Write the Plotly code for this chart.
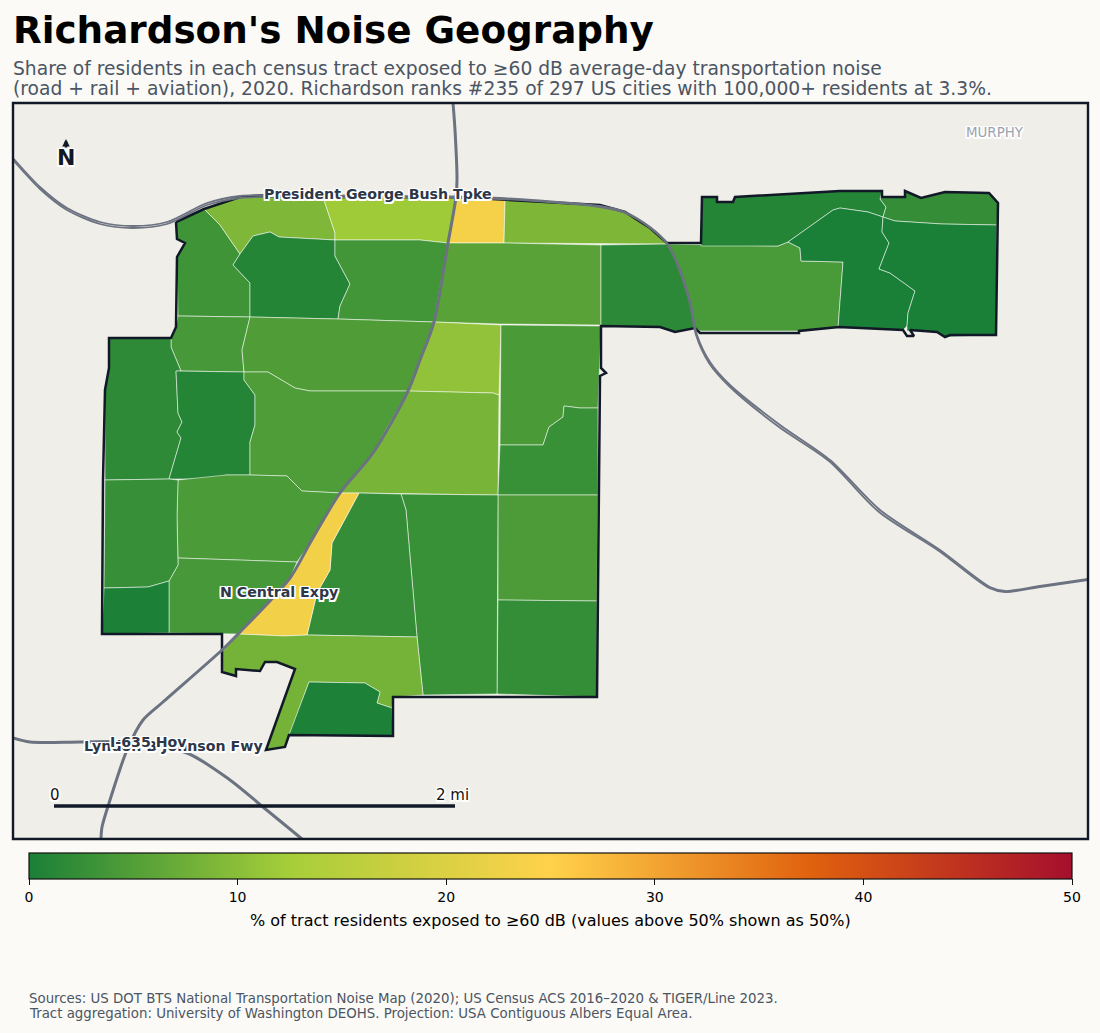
"""Richardson noise exposure map: census tracts, highways and a horizontal colorbar."""

import plotly.graph_objects as go
from plotly.colors import sample_colorscale

W, H = 1100, 1033

# map units (y grows downward)
MAP_X_RANGE = [13, 1088]
MAP_Y_RANGE = [839, 103]

color_stops = [
    [0.00, '#1a7f37'],
    [0.25, '#a6ce39'],
    [0.50, '#ffd24a'],
    [0.75, '#e0610e'],
    [1.00, '#a50f2d'],
]

tract_values = [
    3.3, 9.0, 1.0, 12.0, 23.4, 8.9, 3.6, 5.6, 1.6, 4.2, 0.9, 2.4, 0.1, 0.1,
    4.0, 4.8, 1.8, 1.0, 4.7, 10.6, 8.4, 4.3, 2.8, 4.5, 2.3, 2.8, 2.4, 23.2,
    4.4, 4.0, 2.6, 0.2, 8.0, 0.3,
]

tract_shapes = [
    [(176, 222), (204, 209), (220, 225), (240, 254), (233, 265), (250, 283), (250, 317), (178, 316), (177, 257), (185, 243), (177, 239)],
    [(204, 209), (240, 197), (265, 195), (323, 197), (335, 233), (335, 240), (279, 237), (270, 232), (253, 236), (240, 254), (220, 225)],
    [(240, 254), (253, 236), (270, 232), (279, 237), (335, 240), (335, 256), (350, 284), (340, 306), (338, 319), (250, 317), (250, 283), (233, 265)],
    [(323, 197), (456, 197), (448, 243), (420, 240), (335, 240), (335, 233)],
    [(456, 197), (505, 200), (504, 243), (448, 243)],
    [(505, 200), (600, 205), (625, 212), (650, 228), (667, 244), (504, 243)],
    [(335, 240), (420, 240), (448, 243), (434, 322), (338, 319), (340, 306), (350, 284), (335, 256)],
    [(448, 243), (504, 243), (601, 245), (601, 325), (500, 324), (434, 322)],
    [(601, 245), (667, 244), (676, 260), (690, 300), (695, 328), (675, 332), (660, 327), (601, 326)],
    [(667, 244), (778, 246), (788, 242), (800, 248), (801, 261), (843, 262), (838, 328), (798, 331), (700, 331), (695, 328), (690, 300), (676, 260)],
    [(702, 197), (717, 197), (717, 202), (733, 202), (735, 197), (840, 191), (882, 191), (880, 199), (886, 207), (883, 217), (868, 212), (840, 208), (833, 210), (788, 242), (778, 246), (701, 246)],
    [(882, 197), (905, 197), (905, 191), (921, 198), (945, 192), (989, 193), (998, 203), (997, 225), (942, 224), (895, 221), (883, 217), (886, 207), (880, 199)],
    [(788, 242), (833, 210), (840, 208), (868, 212), (883, 217), (882, 232), (889, 243), (879, 269), (890, 273), (915, 291), (908, 313), (907, 326), (903, 330), (838, 328), (843, 262), (801, 261), (800, 248)],
    [(883, 217), (895, 221), (942, 224), (997, 225), (996, 335), (945, 337), (938, 332), (907, 331), (907, 326), (908, 313), (915, 291), (890, 273), (879, 269), (889, 243), (882, 232)],
    [(178, 316), (250, 317), (242, 350), (244, 372), (181, 371), (171, 347), (171, 338), (176, 327)],
    [(250, 317), (338, 319), (434, 322), (408, 391), (370, 391), (310, 391), (295, 388), (268, 372), (244, 372), (242, 350)],
    [(109, 338), (171, 338), (171, 347), (181, 371), (176, 371), (178, 413), (182, 422), (177, 432), (181, 438), (169, 479), (105, 480), (105, 390), (109, 368)],
    [(176, 371), (244, 372), (244, 380), (255, 395), (255, 425), (250, 442), (250, 475), (226, 475), (215, 479), (169, 479), (181, 438), (177, 432), (182, 422), (178, 413)],
    [(244, 372), (268, 372), (295, 388), (310, 391), (408, 391), (373, 453), (340, 493), (302, 491), (287, 476), (250, 475), (250, 442), (255, 425), (255, 395), (244, 380)],
    [(434, 322), (501, 325), (499, 395), (493, 393), (408, 391)],
    [(408, 391), (493, 393), (499, 395), (498, 495), (360, 493), (340, 493), (373, 453)],
    [(501, 325), (601, 326), (598, 408), (580, 408), (564, 406), (563, 417), (549, 427), (543, 445), (500, 445)],
    [(500, 445), (543, 445), (549, 427), (563, 417), (564, 406), (580, 408), (598, 408), (598, 495), (498, 495)],
    [(498, 495), (598, 495), (597, 601), (498, 600)],
    [(498, 600), (597, 601), (597, 697), (497, 694)],
    [(401, 494), (498, 495), (497, 694), (423, 695), (417, 637), (406, 510)],
    [(359, 493), (401, 494), (406, 510), (417, 637), (307, 635), (317, 593), (330, 570), (332, 543)],
    [(340, 493), (359, 493), (332, 543), (330, 570), (317, 593), (307, 635), (285, 636), (238, 634), (290, 578), (310, 543)],
    [(178, 480), (226, 475), (250, 475), (287, 476), (302, 491), (340, 493), (310, 543), (297, 562), (178, 558), (177, 517)],
    [(178, 558), (297, 562), (290, 578), (238, 634), (169, 633), (169, 581), (178, 565)],
    [(105, 480), (169, 479), (178, 480), (177, 517), (178, 565), (169, 581), (148, 587), (104, 588)],
    [(104, 588), (148, 587), (169, 581), (169, 633), (102, 634)],
    [(238, 634), (285, 636), (307, 635), (417, 637), (423, 695), (393, 697), (392, 708), (377, 703), (380, 692), (365, 683), (309, 682), (289, 735), (285, 747), (266, 750), (295, 669), (277, 662), (265, 662), (260, 671), (236, 669), (236, 676), (222, 672), (222, 652)],
    [(309, 682), (365, 683), (380, 692), (377, 703), (392, 708), (393, 736), (289, 735)],
]

city_outline = [
    (176, 222), (177, 239), (185, 243), (177, 257), (176, 327), (171, 338), (109, 338), (109, 368),
    (105, 390), (103, 480), (102, 634), (222, 634), (222, 672), (236, 676), (236, 669), (260, 671),
    (265, 662), (277, 662), (295, 669), (266, 750), (285, 747), (289, 735), (393, 736), (393, 697),
    (597, 697), (600, 376), (606, 373), (601, 368), (601, 326), (660, 327), (675, 332), (695, 328),
    (700, 333), (799, 333), (799, 331), (839, 327), (903, 330), (907, 336), (914, 336), (910, 330),
    (937, 332), (945, 337), (950, 335), (996, 335), (998, 203), (989, 193), (945, 192), (921, 198),
    (905, 191), (905, 197), (882, 197), (882, 191), (840, 191), (735, 197), (733, 202), (717, 202),
    (717, 197), (702, 197), (701, 243), (667, 243), (650, 228), (625, 212), (600, 205), (505, 200),
    (456, 197), (323, 197), (265, 195), (240, 197), (204, 209), (176, 222),
]

bush_tpke = [
    (13, 158), (40, 187), (67, 208), (100, 222), (133, 226), (167, 222), (207, 203), (240, 196),
    (265, 195), (456, 197), (500, 198), (600, 206), (625, 212), (650, 227), (667, 243), (677, 262),
    (690, 300), (697, 335), (710, 362), (730, 385), (780, 425), (830, 460), (880, 510), (940, 550),
    (990, 587), (1005, 591), (1040, 586), (1088, 579),
]
bush_tpke_2 = [
    (13, 160), (40, 189), (67, 210), (100, 224), (133, 228), (167, 224), (207, 205), (240, 198),
    (265, 197), (456, 198), (500, 199), (600, 207), (625, 213), (650, 228), (667, 244), (676, 262),
    (689, 300), (696, 335), (709, 363), (729, 386), (779, 427), (829, 461), (879, 512), (939, 551),
    (989, 588), (1005, 592), (1040, 587), (1088, 580),
]
central_expy = [
    (453, 103), (455, 130), (457, 180), (456, 197), (448, 243), (434, 322), (420, 360), (408, 391),
    (373, 453), (340, 493), (310, 543), (290, 578), (238, 634), (222, 650), (163, 702), (143, 720),
    (127, 750), (110, 800), (102, 827), (101, 839),
]
lbj_fwy = [
    (13, 738), (30, 742), (80, 742), (130, 742), (187, 753), (230, 780), (263, 807), (302, 839),
]

road_labels = ['President George Bush Tpke', 'N Central Expy', 'Lyndon B Johnson Fwy', 'I-635 Hov']
road_label_x = [378, 279, 173, 148]
road_label_y = [194, 592, 746, 742]

scale_bar_x = [54, 455]
scale_bar_y = [806, 806]
scale_labels = ['0', '2 mi']

cbar_ticks = [0, 10, 20, 30, 40, 50]
cbar_title = '% of tract residents exposed to ≥60 dB (values above 50% shown as 50%)'

title_text = "Richardson's Noise Geography"
subtitle_lines = [
    'Share of residents in each census tract exposed to ≥60 dB average-day transportation noise',
    '(road + rail + aviation), 2020. Richardson ranks #235 of 297 US cities with 100,000+ residents at 3.3%.',
]
source_lines = [
    'Sources: US DOT BTS National Transportation Noise Map (2020); US Census ACS 2016–2020 &amp; TIGER/Line 2023.',
    'Tract aggregation: University of Washington DEOHS. Projection: USA Contiguous Albers Equal Area.',
]

HALO = ('1.5px 1.5px 0 #fff, -1.5px -1.5px 0 #fff, 1.5px -1.5px 0 #fff, -1.5px 1.5px 0 #fff, '
        '0 1.5px 0 #fff, 0 -1.5px 0 #fff, 1.5px 0 0 #fff, -1.5px 0 0 #fff')
FONT = 'DejaVu Sans'


def xs(points):
    return [p[0] for p in points]


def ys(points):
    return [p[1] for p in points]


def px(x):
    return x / W


def py(y):
    return 1 - y / H


def sheet_text(x, y, text, size, color, xanchor='left'):
    return dict(x=px(x), y=py(y), xref='paper', yref='paper', xanchor=xanchor, yanchor='middle',
                text=text, showarrow=False, borderpad=0,
                font=dict(family=FONT, size=size, color=color))


fig = go.Figure()

# Tracts
for shape, value in zip(tract_shapes, tract_values):
    fill = sample_colorscale(color_stops, [value / 50])[0]
    fig.add_trace(go.Scatter(
        x=xs(shape) + [shape[0][0]], y=ys(shape) + [shape[0][1]],
        mode='lines', fill='toself', fillcolor=fill,
        line=dict(color='rgba(255,255,255,0.65)', width=0.8),
        hovertemplate=f'{value:.1f}%<extra></extra>',
    ))

# City boundary
fig.add_trace(go.Scatter(
    x=xs(city_outline), y=ys(city_outline), mode='lines',
    line=dict(color='#111827', width=2.5), hoverinfo='skip',
))

# Highways
for road, width in [(bush_tpke, 1.8), (bush_tpke_2, 1.8), (central_expy, 3), (lbj_fwy, 3)]:
    fig.add_trace(go.Scatter(
        x=xs(road), y=ys(road), mode='lines',
        line=dict(color='#6b7280', width=width, shape='spline', smoothing=0.8), hoverinfo='skip',
    ))

# Scale bar
fig.add_trace(go.Scatter(
    x=scale_bar_x, y=scale_bar_y, mode='lines',
    line=dict(color='#111827', width=3.5), hoverinfo='skip',
))

# Colorbar carrier, no visible marker
fig.add_trace(go.Scatter(
    x=[None], y=[None], mode='markers', hoverinfo='skip',
    marker=dict(
        color=[0], cmin=0, cmax=50, colorscale=color_stops, showscale=True,
        colorbar=dict(
            orientation='h', xref='container', yref='container',
            x=px(29), xanchor='left', y=py(853), yanchor='top',
            lenmode='pixels', len=1043, thicknessmode='pixels', thickness=26,
            outlinecolor='#111111', outlinewidth=1.2,
            tickmode='array', tickvals=cbar_ticks, ticks='outside', ticklen=6,
            tickcolor='#111111', tickfont=dict(family=FONT, size=14, color='#000000'),
            xpad=0, ypad=0,
        ),
    ),
))

annotations = [
    sheet_text(11.5, 30, f'<b>{title_text}</b>', 37.3, '#000000'),
    sheet_text(12, 68, subtitle_lines[0], 18.7, '#4b5563'),
    sheet_text(12, 88, subtitle_lines[1], 18.7, '#4b5563'),
    sheet_text(28, 998, source_lines[0], 13.35, '#4b5563'),
    sheet_text(28, 1013, source_lines[1], 13.35, '#4b5563'),
    sheet_text(550.5, 920, cbar_title, 16, '#000000', xanchor='center'),
]

# Map labels live in map units
for text, x, y in zip(road_labels, road_label_x, road_label_y):
    annotations.append(dict(
        x=x, y=y, xref='x', yref='y', text=f'<b>{text}</b>', showarrow=False,
        font=dict(family=FONT, size=14.2, color='#2d3748', shadow=HALO),
    ))
annotations += [
    dict(x=995, y=132, xref='x', yref='y', text='MURPHY', showarrow=False,
         font=dict(family=FONT, size=13.4, color='#9ca3af', shadow=HALO)),
    dict(x=66, y=157, xref='x', yref='y', text='<b>N</b>', showarrow=False,
         font=dict(family=FONT, size=22, color='#111827', shadow=HALO)),
    dict(x=66, y=139, ax=66, ay=149, xref='x', yref='y', axref='x', ayref='y', text='',
         showarrow=True, arrowhead=2, arrowsize=0.6, arrowwidth=2.5, arrowcolor='#111827'),
    dict(x=scale_bar_x[0] + 1, y=795, xref='x', yref='y', text=scale_labels[0], showarrow=False,
         font=dict(family=FONT, size=15, color='#111111', shadow=HALO)),
    dict(x=scale_bar_x[1] - 3, y=795, xref='x', yref='y', text=scale_labels[1], showarrow=False,
         font=dict(family=FONT, size=15, color='#111111', shadow=HALO)),
]

fig.update_layout(
    width=W, height=H,
    margin=dict(l=0, r=0, t=0, b=0, autoexpand=False),
    paper_bgcolor='#fbfaf6',
    plot_bgcolor='#f0eee8',
    showlegend=False,
    annotations=annotations,
    shapes=[dict(type='rect', xref='paper', yref='paper', x0=px(MAP_X_RANGE[0]), x1=px(MAP_X_RANGE[1]),
                 y0=py(MAP_Y_RANGE[0]), y1=py(MAP_Y_RANGE[1]), layer='above',
                 line=dict(color='#111827', width=2.4))],
    xaxis=dict(domain=[px(13), px(1088)], range=MAP_X_RANGE, showticklabels=False,
               ticks='', showgrid=False, zeroline=False, showline=False),
    yaxis=dict(domain=[py(839), py(103)], range=MAP_Y_RANGE, showticklabels=False,
               ticks='', showgrid=False, zeroline=False, showline=False),
)

fig.write_html("out.html", config=dict(displayModeBar=False),
               post_script="document.body.style.margin='0';")
